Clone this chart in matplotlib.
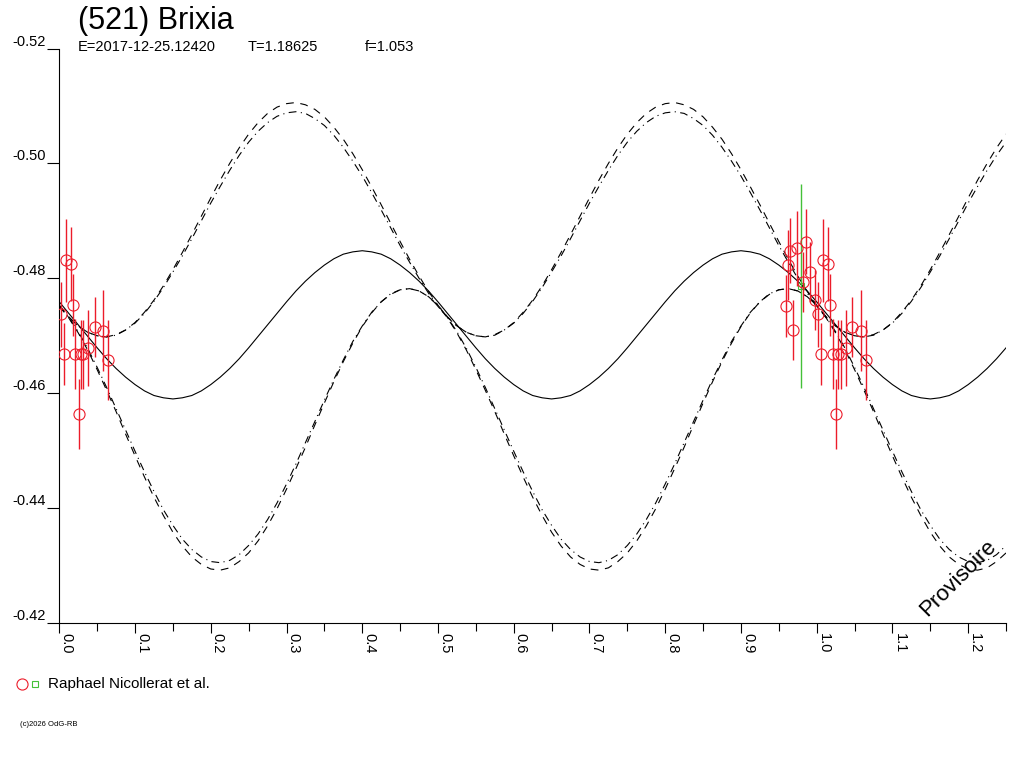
import numpy as np
import matplotlib.pyplot as plt
from matplotlib.lines import Line2D

plt.rcParams['font.family'] = ['Liberation Sans', 'DejaVu Sans']

phase = np.linspace(0.0, 1.25, 101)

model = [-0.4759, -0.4739, -0.4719, -0.4699, -0.4679, -0.4660, -0.4643, -0.4628, -0.4615, -0.4604,
         -0.4596, -0.4592, -0.4590, -0.4592, -0.4596, -0.4604, -0.4615, -0.4628, -0.4643, -0.4660,
         -0.4679, -0.4699, -0.4719, -0.4739, -0.4759, -0.4778, -0.4795, -0.4810, -0.4823, -0.4834,
         -0.4842, -0.4846, -0.4848, -0.4846, -0.4842, -0.4834, -0.4823, -0.4810, -0.4795, -0.4778,
         -0.4759, -0.4739, -0.4719, -0.4699, -0.4679, -0.4660, -0.4643, -0.4628, -0.4615, -0.4604,
         -0.4596, -0.4592, -0.4590, -0.4592, -0.4596, -0.4604, -0.4615, -0.4628, -0.4643, -0.4660,
         -0.4679, -0.4699, -0.4719, -0.4739, -0.4759, -0.4778, -0.4795, -0.4810, -0.4823, -0.4834,
         -0.4842, -0.4846, -0.4848, -0.4846, -0.4842, -0.4834, -0.4823, -0.4810, -0.4795, -0.4778,
         -0.4759, -0.4739, -0.4719, -0.4699, -0.4679, -0.4660, -0.4643, -0.4628, -0.4615, -0.4604,
         -0.4596, -0.4592, -0.4590, -0.4592, -0.4596, -0.4604, -0.4615, -0.4628, -0.4643, -0.4660,
         -0.4679]

upper_dash = [-0.4753, -0.4733, -0.4717, -0.4706, -0.4700, -0.4698, -0.4702, -0.4710, -0.4723, -0.4741,
              -0.4762, -0.4787, -0.4815, -0.4845, -0.4876, -0.4908, -0.4940, -0.4971, -0.5000, -0.5027,
              -0.5051, -0.5071, -0.5087, -0.5098, -0.5104, -0.5106, -0.5102, -0.5094, -0.5081, -0.5063,
              -0.5042, -0.5017, -0.4989, -0.4959, -0.4928, -0.4896, -0.4864, -0.4833, -0.4804, -0.4777,
              -0.4753, -0.4733, -0.4717, -0.4706, -0.4700, -0.4698, -0.4702, -0.4710, -0.4723, -0.4741,
              -0.4762, -0.4787, -0.4815, -0.4845, -0.4876, -0.4908, -0.4940, -0.4971, -0.5000, -0.5027,
              -0.5051, -0.5071, -0.5087, -0.5098, -0.5104, -0.5106, -0.5102, -0.5094, -0.5081, -0.5063,
              -0.5042, -0.5017, -0.4989, -0.4959, -0.4928, -0.4896, -0.4864, -0.4833, -0.4804, -0.4777,
              -0.4753, -0.4733, -0.4717, -0.4706, -0.4700, -0.4698, -0.4702, -0.4710, -0.4723, -0.4741,
              -0.4762, -0.4787, -0.4815, -0.4845, -0.4876, -0.4908, -0.4940, -0.4971, -0.5000, -0.5027,
              -0.5051]

upper_dashdot = [-0.4751, -0.4732, -0.4717, -0.4706, -0.4700, -0.4698, -0.4701, -0.4710, -0.4722, -0.4739,
                 -0.4760, -0.4784, -0.4811, -0.4839, -0.4869, -0.4900, -0.4931, -0.4960, -0.4988, -0.5014,
                 -0.5037, -0.5056, -0.5071, -0.5082, -0.5088, -0.5090, -0.5087, -0.5078, -0.5066, -0.5049,
                 -0.5028, -0.5004, -0.4978, -0.4949, -0.4919, -0.4888, -0.4857, -0.4828, -0.4800, -0.4774,
                 -0.4751, -0.4732, -0.4717, -0.4706, -0.4700, -0.4698, -0.4701, -0.4710, -0.4722, -0.4739,
                 -0.4760, -0.4784, -0.4811, -0.4839, -0.4869, -0.4900, -0.4931, -0.4960, -0.4988, -0.5014,
                 -0.5037, -0.5056, -0.5071, -0.5082, -0.5088, -0.5090, -0.5087, -0.5078, -0.5066, -0.5049,
                 -0.5028, -0.5004, -0.4978, -0.4949, -0.4919, -0.4888, -0.4857, -0.4828, -0.4800, -0.4774,
                 -0.4751, -0.4732, -0.4717, -0.4706, -0.4700, -0.4698, -0.4701, -0.4710, -0.4722, -0.4739,
                 -0.4760, -0.4784, -0.4811, -0.4839, -0.4869, -0.4900, -0.4931, -0.4960, -0.4988, -0.5014,
                 -0.5037]

lower_dash = [-0.4752, -0.4731, -0.4705, -0.4675, -0.4641, -0.4605, -0.4568, -0.4529, -0.4491, -0.4454,
              -0.4419, -0.4387, -0.4358, -0.4334, -0.4315, -0.4302, -0.4294, -0.4292, -0.4296, -0.4307,
              -0.4322, -0.4343, -0.4369, -0.4399, -0.4433, -0.4469, -0.4506, -0.4545, -0.4583, -0.4620,
              -0.4655, -0.4687, -0.4716, -0.4740, -0.4759, -0.4772, -0.4780, -0.4782, -0.4778, -0.4768,
              -0.4752, -0.4731, -0.4705, -0.4675, -0.4641, -0.4605, -0.4568, -0.4529, -0.4491, -0.4454,
              -0.4419, -0.4387, -0.4358, -0.4334, -0.4315, -0.4302, -0.4294, -0.4292, -0.4296, -0.4307,
              -0.4322, -0.4343, -0.4369, -0.4399, -0.4433, -0.4469, -0.4506, -0.4545, -0.4583, -0.4620,
              -0.4655, -0.4687, -0.4716, -0.4740, -0.4759, -0.4772, -0.4780, -0.4782, -0.4778, -0.4768,
              -0.4752, -0.4731, -0.4705, -0.4675, -0.4641, -0.4605, -0.4568, -0.4529, -0.4491, -0.4454,
              -0.4419, -0.4387, -0.4358, -0.4334, -0.4315, -0.4302, -0.4294, -0.4292, -0.4296, -0.4307,
              -0.4322]

lower_dashdot = [-0.4753, -0.4732, -0.4707, -0.4678, -0.4645, -0.4610, -0.4573, -0.4536, -0.4499, -0.4463,
                 -0.4429, -0.4397, -0.4370, -0.4346, -0.4328, -0.4315, -0.4307, -0.4305, -0.4309, -0.4319,
                 -0.4335, -0.4355, -0.4380, -0.4409, -0.4442, -0.4477, -0.4514, -0.4551, -0.4588, -0.4624,
                 -0.4658, -0.4690, -0.4717, -0.4741, -0.4759, -0.4773, -0.4780, -0.4782, -0.4778, -0.4768,
                 -0.4753, -0.4732, -0.4707, -0.4678, -0.4645, -0.4610, -0.4573, -0.4536, -0.4499, -0.4463,
                 -0.4429, -0.4397, -0.4370, -0.4346, -0.4328, -0.4315, -0.4307, -0.4305, -0.4309, -0.4319,
                 -0.4335, -0.4355, -0.4380, -0.4409, -0.4442, -0.4477, -0.4514, -0.4551, -0.4588, -0.4624,
                 -0.4658, -0.4690, -0.4717, -0.4741, -0.4759, -0.4773, -0.4780, -0.4782, -0.4778, -0.4768,
                 -0.4753, -0.4732, -0.4707, -0.4678, -0.4645, -0.4610, -0.4573, -0.4536, -0.4499, -0.4463,
                 -0.4429, -0.4397, -0.4370, -0.4346, -0.4328, -0.4315, -0.4307, -0.4305, -0.4309, -0.4319,
                 -0.4335]

# mesures (phase dans [0,1[), tracees a phase et phase+1
obs_phase = [0.9595, 0.9625, 0.9651, 0.9691, 0.9740, 0.9813, 0.9859, 0.9905, 0.9978,
             0.0022, 0.0058, 0.0088, 0.0151, 0.0177, 0.0211, 0.0256, 0.0287, 0.0317,
             0.0383, 0.0467, 0.0581, 0.0647]
obs_mag = [-0.4752, -0.4823, -0.4848, -0.4710, -0.4852, -0.4794, -0.4864, -0.4811, -0.4762,
           -0.4737, -0.4669, -0.4831, -0.4825, -0.4754, -0.4668, -0.4564, -0.4668, -0.4668,
           -0.4679, -0.4715, -0.4709, -0.4658]
obs_err = [0.0054, 0.0061, 0.0057, 0.0052, 0.0066, 0.0052, 0.0057, 0.0052, 0.0052,
           0.0057, 0.0054, 0.0073, 0.0064, 0.0054, 0.0061, 0.0061, 0.0060, 0.0060,
           0.0066, 0.0052, 0.0070, 0.0070]

green_phase = [0.9789]
green_mag = [-0.4787]
green_err = [0.0178]

title = '(521) Brixia'
observer = 'Raphael Nicollerat et al.'

red = '#ec1c2a'
green = '#44c038'

fig = plt.figure(figsize=(10.24, 7.68), dpi=100)
ax = fig.add_axes([59.3 / 1024, 1 - 623 / 768, 946.75 / 1024, 574.5 / 768])

ax.plot(phase, model, color='black', lw=0.8)
ax.plot(phase, upper_dash, color='black', lw=0.8, ls=(0, (7, 6)))
ax.plot(phase, upper_dashdot, color='black', lw=0.8, ls=(0, (7, 4, 1, 4)))
ax.plot(phase, lower_dash, color='black', lw=0.8, ls=(0, (7, 6)))
ax.plot(phase, lower_dashdot, color='black', lw=0.8, ls=(0, (7, 4, 1, 4)))

for shift in [0, 1]:
    ax.errorbar(np.array(obs_phase) + shift, obs_mag, yerr=obs_err, fmt='o', ms=8,
                mfc='none', mec=red, mew=0.8, ecolor=red, elinewidth=1.0, capsize=0, zorder=5)
    ax.errorbar(np.array(green_phase) + shift, green_mag, yerr=green_err, fmt='s', ms=5,
                mfc='none', mec=green, mew=0.8, ecolor=green, elinewidth=1.0, capsize=0, zorder=4)

ax.set_xlim(0, 1.25)
ax.set_ylim(-0.42, -0.52)

for s in ['top', 'right']:
    ax.spines[s].set_visible(False)
for s in ['left', 'bottom']:
    ax.spines[s].set_linewidth(0.8)

ax.set_yticks([-0.52, -0.50, -0.48, -0.46, -0.44, -0.42])
ax.set_yticklabels(['-0.52', '-0.50', '-0.48', '-0.46', '-0.44', '-0.42'])
ax.tick_params(axis='y', direction='out', length=9, width=0.8, pad=1, labelsize=10.5)
for lab in ax.get_yticklabels():
    lab.set_verticalalignment('bottom')

ax.set_xticks(np.arange(0, 1.21, 0.1))
ax.set_xticks(np.arange(0.05, 1.26, 0.1), minor=True)
ax.set_xticklabels(['%.1f' % v for v in np.arange(0, 1.21, 0.1)])
ax.tick_params(axis='x', which='major', direction='out', length=7.2, width=0.8, pad=0, labelsize=10.5)
ax.tick_params(axis='x', which='minor', direction='out', length=6, width=0.8)
for lab in ax.get_xticklabels():
    lab.set_rotation(-90)
    lab.set_horizontalalignment('left')
    lab.set_verticalalignment('top')

fig.text(78 / 1024, 1 - 20.5 / 768, title, fontsize=22, va='center', ha='left')
fig.text(78 / 1024, 1 - 47 / 768, 'E=2017-12-25.12420', fontsize=10.5, va='center', ha='left')
fig.text(248 / 1024, 1 - 47 / 768, 'T=1.18625', fontsize=10.5, va='center', ha='left')
fig.text(365 / 1024, 1 - 47 / 768, 'f=1.053', fontsize=10.5, va='center', ha='left')

fig.text(958 / 1024, 1 - 578 / 768, 'Provisoire', fontsize=16, rotation=45,
         ha='center', va='center')

# legende
fig.add_artist(Line2D([22 / 1024], [1 - 684 / 768], marker='o', ms=8, mfc='none', mec=red,
                      mew=0.8, ls='none', transform=fig.transFigure))
fig.add_artist(Line2D([35 / 1024], [1 - 684 / 768], marker='s', ms=5, mfc='none', mec=green,
                      mew=0.8, ls='none', transform=fig.transFigure))
fig.text(48 / 1024, 1 - 684 / 768, observer, fontsize=11, va='center', ha='left')

fig.text(20 / 1024, 1 - 725 / 768, '(c)2026 OdG-RB', fontsize=5.5, va='center', ha='left')

fig.savefig('out.png', dpi=100)
